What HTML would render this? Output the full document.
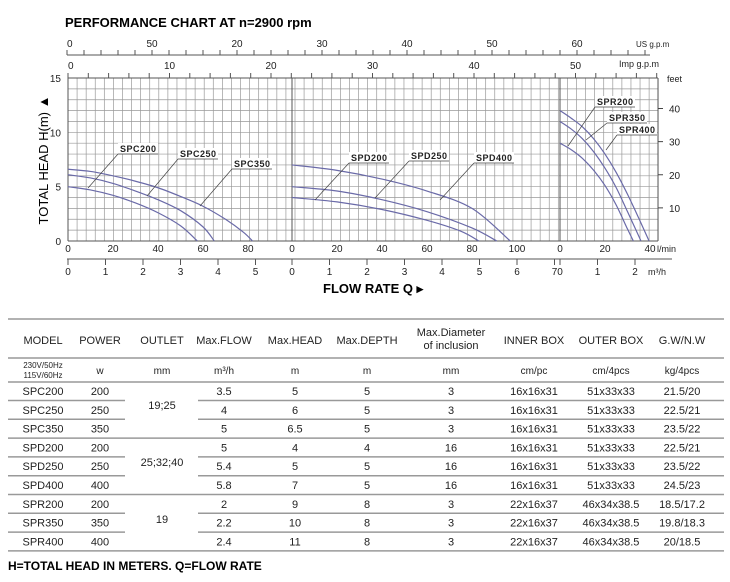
<!DOCTYPE html>
<html><head><meta charset="utf-8"><style>
html,body{margin:0;padding:0;background:#fff;}
svg{display:block;font-family:"Liberation Sans",Arial,sans-serif;}
</style></head><body>
<svg id="c" width="730" height="582" viewBox="0 0 730 582" xmlns="http://www.w3.org/2000/svg">
<text x="65" y="27" font-size="13" font-weight="bold">PERFORMANCE CHART AT n=2900 rpm</text>
<g id="grid"></g>
<g id="axes"></g>
<g id="curves"></g>
<g id="labels"></g>
<text transform="translate(48,160) rotate(-90)" text-anchor="middle" font-size="13">TOTAL HEAD H(m) ▲</text>
<text x="323" y="293" font-size="13" font-weight="bold">FLOW RATE Q ▸</text>
<g id="table"></g>
<text x="8" y="570" font-size="12" font-weight="bold">H=TOTAL HEAD IN METERS.  Q=FLOW RATE</text>
</svg>
<script>
// ---- chart data (l/min vs head m) ----
const spc200Q=[0,10,20,30,40,50,57.5];const spc200H=[5,4.7,4.2,3.5,2.6,1.4,0];
const spc250Q=[0,10,20,30,40,50,60,65];const spc250H=[6.1,5.8,5.3,4.6,3.8,2.8,1.3,0];
const spc350Q=[0,10,20,30,40,50,60,70,78,82];const spc350H=[6.6,6.4,6.0,5.5,4.9,4.1,3.2,2.0,0.8,0];
const spd200Q=[0,20,40,60,75,83];const spd200H=[4,3.6,2.9,1.9,0.9,0];
const spd250Q=[0,20,40,60,80,91];const spd250H=[5,4.6,3.8,2.7,1.2,0];
const spd400Q=[0,20,40,60,80,97];const spd400H=[7,6.5,5.7,4.6,3.0,0];
const spr200Q=[0,5,10,15,20,25,30,32.6];const spr200H=[9,8.4,7.6,6.5,5.1,3.3,1.1,0];
const spr350Q=[0,5,10,15,20,25,30,36];const spr350H=[11,10.3,9.4,8.2,6.7,4.9,2.7,0];
const spr400Q=[0,5,10,15,20,25,30,35,39.6];const spr400H=[12,11.3,10.5,9.4,8.0,6.3,4.3,2.1,0];
const headTicks=[0,5,10,15];
const feetTicks=[10,20,30,40];
const usLabels=["0","50","20","30","40","50","60"];
const impLabels=["0","10","20","30","40","50"];
const spcLmin=[0,20,40,60,80];const spdLmin=[0,20,40,60,80,100];const sprLmin=[0,20,40];
const spcM3=[0,1,2,3,4,5];const spdM3=[0,1,2,3,4,5,6,7];const sprM3=[0,1,2];

const NS="http://www.w3.org/2000/svg";
function mk(p,t,a){const e=document.createElementNS(NS,t);for(const k in a)e.setAttribute(k,a[k]);p.appendChild(e);return e;}
const X0=68,X1=658,Y0=241,Y1=78;
const K=2.25;
const sec={spc:68,spd:292,spr:560};
function xs(s,q){return sec[s]+q*K;}
function ys(h){return Y0-h*(Y0-Y1)/15;}
function yft(f){return ys(f*0.3048);}
const grid=document.getElementById('grid');
for(let h=0;h<=15;h++){const l=mk(grid,'line',{x1:X0,x2:X1,y1:ys(h),y2:ys(h),stroke:'#999','stroke-width':0.7});

}
for(let x=X0;x<=X1+0.5;x+=9.08){const l=mk(grid,'line',{x1:x,x2:x,y1:Y1,y2:Y0,stroke:'#999','stroke-width':0.7});

}
[X0,292,560,X1].forEach(x=>{const l=mk(grid,'line',{x1:x,x2:x,y1:Y1,y2:Y0,stroke:'#555','stroke-width':1});

});
mk(grid,'line',{x1:X0,x2:X1,y1:Y1,y2:Y1,stroke:'#555','stroke-width':1});
mk(grid,'line',{x1:X0,x2:X1,y1:Y0,y2:Y0,stroke:'#555','stroke-width':1});

const ax=document.getElementById('axes');
function txt(p,x,y,s,o){const t=mk(p,'text',Object.assign({x:x,y:y,'font-size':9,fill:'#222'},o||{}));t.textContent=s;return t;}
headTicks.forEach(h=>{const t=txt(ax,61,ys(h)+4,String(h),{'text-anchor':'end','font-size':10});

});
feetTicks.forEach(f=>{mk(ax,'line',{x1:X1,x2:X1+5,y1:yft(f),y2:yft(f),stroke:'#444'});
const t=txt(ax,669,yft(f)+4,String(f),{'font-size':10});

});
txt(ax,667,82,'feet');
// US gpm axis
mk(ax,'line',{x1:67,x2:650,y1:55,y2:55,stroke:'#555'});
for(let i=0;i<=34;i++){const x=67+i*17;mk(ax,'line',{x1:x,x2:x,y1:50,y2:55,stroke:'#555'});}
usLabels.forEach((s,i)=>{const t=txt(ax,67+i*85,47,s,{'text-anchor':i?'middle':'start','font-size':10});

});
txt(ax,636,47,'US g.p.m',{'font-size':8});
// Imp gpm axis
for(let i=0;i<=29;i++){const x=68+i*20.3;mk(ax,'line',{x1:x,x2:x,y1:73,y2:78,stroke:'#555'});}
impLabels.forEach((s,i)=>{const t=txt(ax,68+i*101.5,69,s,{'text-anchor':i?'middle':'start','font-size':10});

});
txt(ax,619,67,'Imp  g.p.m',{'font-size':9});
// l/min labels
[['spc',spcLmin],['spd',spdLmin],['spr',sprLmin]].forEach(([s,arr])=>arr.forEach(v=>{const t=txt(ax,xs(s,v),252,String(v),{'text-anchor':'middle','font-size':10});

}));
txt(ax,657,252,'l/min');
// m3/h axis
mk(ax,'line',{x1:67,x2:672,y1:259,y2:259,stroke:'#555'});
[['spc',spcM3],['spd',spdM3],['spr',sprM3]].forEach(([s,arr])=>arr.forEach(v=>{const x=xs(s,v*1000/60);mk(ax,'line',{x1:x,x2:x,y1:259,y2:265,stroke:'#555'});
const t=txt(ax,x,275,String(v),{'text-anchor':'middle','font-size':10});

}));
txt(ax,648,275,'m³/h');

const curves=document.getElementById('curves');
[['spc',spc200Q,spc200H,'spc200'],['spc',spc250Q,spc250H,'spc250'],['spc',spc350Q,spc350H,'spc350'],
 ['spd',spd200Q,spd200H,'spd200'],['spd',spd250Q,spd250H,'spd250'],['spd',spd400Q,spd400H,'spd400'],
 ['spr',spr200Q,spr200H,'spr200'],['spr',spr350Q,spr350H,'spr350'],['spr',spr400Q,spr400H,'spr400']].forEach(([s,Q,H,n])=>{
 const pts=Q.map((q,i)=>[xs(s,q),ys(H[i])]);
 let d='M'+pts[0][0]+','+pts[0][1];
 for(let i=0;i<pts.length-1;i++){const p0=pts[i-1]||pts[i],p1=pts[i],p2=pts[i+1],p3=pts[i+2]||p2;
  d+=' C'+(p1[0]+(p2[0]-p0[0])/6)+','+(p1[1]+(p2[1]-p0[1])/6)+' '+(p2[0]-(p3[0]-p1[0])/6)+','+(p2[1]-(p3[1]-p1[1])/6)+' '+p2[0]+','+p2[1];}
 const p=mk(curves,'path',{d:d,fill:'none',stroke:'#6a6aa8','stroke-width':1.2});
 
 
});

const lab=document.getElementById('labels');
[['SPC200',118,153,88,188],['SPC250',178,158,147,196],['SPC350',232,168,200,206],
 ['SPD200',349,162,315,200],['SPD250',409,160,375,198],['SPD400',474,162,440,200],
 ['SPR200',595,106,568,146],['SPR350',607,122,586,140],['SPR400',617,134,606,150]].forEach(([s,x,y,ex,ey])=>{
 mk(lab,'rect',{x:x,y:y-10,width:40,height:11,fill:'#fff'});
 const t=txt(lab,x+2,y-1,s,{'font-size':9,'font-weight':'bold','letter-spacing':'0.5'});
 
 
 mk(lab,'line',{x1:x,x2:x+40,y1:y+1,y2:y+1,stroke:'#444','stroke-width':0.7});
 mk(lab,'line',{x1:x,x2:ex,y1:y+1,y2:ey,stroke:'#444','stroke-width':0.7});
});

// ---- table ----
const tb=document.getElementById('table');
const cx=[43,100,162,224,295,367,451,534,611,682];
const heads=['MODEL','POWER','OUTLET','Max.FLOW','Max.HEAD','Max.DEPTH','','INNER BOX','OUTER BOX','G.W/N.W'];
const units=['','w','mm','m³/h','m','m','mm','cm/pc','cm/4pcs','kg/4pcs'];
const rows=[
['SPC200','200','3.5','5','5','3','16x16x31','51x33x33','21.5/20'],
['SPC250','250','4','6','5','3','16x16x31','51x33x33','22.5/21'],
['SPC350','350','5','6.5','5','3','16x16x31','51x33x33','23.5/22'],
['SPD200','200','5','4','4','16','16x16x31','51x33x33','22.5/21'],
['SPD250','250','5.4','5','5','16','16x16x31','51x33x33','23.5/22'],
['SPD400','400','5.8','7','5','16','16x16x31','51x33x33','24.5/23'],
['SPR200','200','2','9','8','3','22x16x37','46x34x38.5','18.5/17.2'],
['SPR350','350','2.2','10','8','3','22x16x37','46x34x38.5','19.8/18.3'],
['SPR400','400','2.4','11','8','3','22x16x37','46x34x38.5','20/18.5']];
const outlets=[['19;25',409],['25;32;40',466],['19',523]];
const ln=(x1,x2,y)=>mk(tb,'line',{x1:x1,x2:x2,y1:y,y2:y,stroke:'#999','stroke-width':1.5});
ln(8,724,319);ln(8,724,358);ln(8,724,382);
heads.forEach((h,i)=>{if(h){const t=txt(tb,cx[i],344,h,{'text-anchor':'middle','font-size':11});

}});
txt(tb,cx[6],336,'Max.Diameter',{'text-anchor':'middle','font-size':11});
txt(tb,cx[6],349,'of inclusion',{'text-anchor':'middle','font-size':11});
txt(tb,43,368,'230V/50Hz',{'text-anchor':'middle','font-size':8});
txt(tb,43,378,'115V/60Hz',{'text-anchor':'middle','font-size':8});
units.forEach((u,i)=>{if(u)txt(tb,cx[i],374,u,{'text-anchor':'middle','font-size':10});});
rows.forEach((r,j)=>{const y=395+j*18.8;
 const idx=[0,1,3,4,5,6,7,8,9];
 r.forEach((v,k)=>{const t=txt(tb,cx[idx[k]],y,v,{'text-anchor':'middle','font-size':11});
 
 });
 const ly=400.5+j*18.8;
 if(j%3===2)ln(8,724,ly);else{ln(8,125,ly);ln(198,724,ly);}
});
outlets.forEach(([s,y])=>txt(tb,162,y,s,{'text-anchor':'middle','font-size':11}));
</script>
</body></html>
